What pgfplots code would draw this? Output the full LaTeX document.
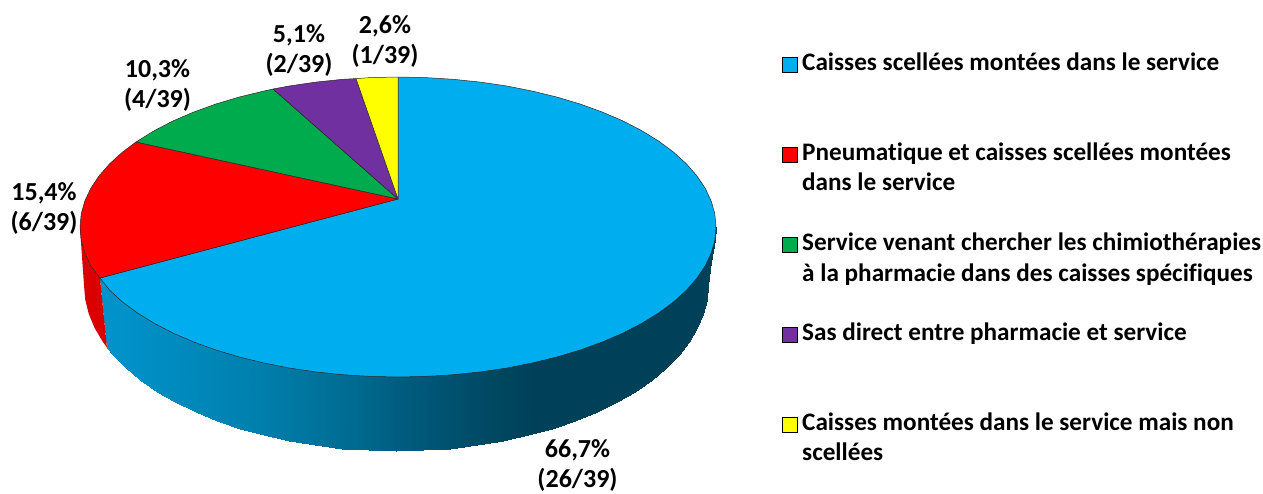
\documentclass[border=0pt]{standalone}
\usepackage{fontspec}
\setmainfont{Carlito}[Ligatures=CommonOff]
\usepackage{pgfplots}
\pgfplotsset{compat=1.18}
\definecolor{pieblue}{RGB}{0,174,239}
\definecolor{piered}{RGB}{255,0,0}
\definecolor{piereddark}{RGB}{219,0,0}
\definecolor{piegreen}{RGB}{0,171,78}
\definecolor{piepurple}{RGB}{112,48,160}
\definecolor{pieyellow}{RGB}{255,255,0}
\definecolor{edge}{RGB}{40,40,40}
\tikzset{
  sector/.style={draw=edge, line width=0.5pt, line join=round},
  pct/.style={font=\fontsize{26}{30}\selectfont\bfseries, align=center, inner sep=0pt, text=black},
  leg/.style={font=\fontsize{25.2}{30}\selectfont\bfseries, anchor=base west, inner sep=0pt, text=black},
  sq/.style={only marks, mark=square*, mark size=7.5pt, mark options={draw=black, line width=0.8pt, fill=#1}},
}
\begin{document}
\begin{tikzpicture}
\begin{axis}[
  scale only axis, width=1263pt, height=493pt,
  xmin=0, xmax=1263, ymin=0, ymax=493,
  y dir=reverse, hide axis, clip=false,
  colormap={wall}{rgb255(100)=(0,148,203) rgb255(127)=(0,145,200) rgb255(260)=(0,127,173)
    rgb255(360)=(0,105,142) rgb255(393)=(0,94,130) rgb255(433)=(0,85,117) rgb255(500)=(0,70,95)
    rgb255(533)=(0,65,90) rgb255(716)=(0,65,90)},
  point meta min=100, point meta max=716,
]
\path (axis cs:0,0) rectangle (axis cs:1263,493);
% side walls: blue one as a two-row mesh, coloured by x
\addplot[surf, shader=interp, mesh/rows=2, point meta=x] coordinates {
  (100,227) (107,227) (113.2,227) (125.8,227) (140.4,227) (157,227) (175.4,227) (195.5,227) (217,227)
  (240,227) (264.1,227) (289.3,227) (315.2,227) (341.8,227) (368.8,227) (396,227) (423.2,227)
  (450.2,227) (476.8,227) (502.7,227) (527.9,227) (552,227) (575,227) (596.5,227) (616.6,227)
  (635,227) (651.6,227) (666.2,227) (678.8,227) (689.2,227) (697.4,227) (703.3,227) (706.8,227)
  (708,227) (711,227) (714.8,227) (716,227)

  (100,278) (107,347.5) (113.2,355.2) (125.8,368) (140.4,380.2) (157,391.7) (175.4,402.4) (195.5,412.2) (217,421)
  (240,428.8) (264.1,435.4) (289.3,441) (315.2,445.3) (341.8,448.5) (368.8,450.4) (396,451) (423.2,450.4)
  (450.2,448.5) (476.8,445.3) (502.7,441) (527.9,435.4) (552,428.8) (575,421) (596.5,412.2) (616.6,402.4)
  (635,391.7) (651.6,380.2) (666.2,368) (678.8,355.2) (689.2,341.8) (697.4,328) (703.3,313.8) (706.8,299.5)
  (708,285) (711,262) (714.8,240) (716,227)
};
\addplot[fill=piereddark, draw=none] coordinates {
  (100,278) (107,347.5) (102.8,341.8) (94.6,328) (88.7,313.8) (85.2,299.5) (84,285)
  (81.5,250) (80,227) (398,199)
} -- cycle;
% top faces
\addplot[sector, fill=pieblue] coordinates {
  (398,199) (398,77) (425.7,77.6) (453.2,79.3) (480.3,82.1) (506.8,86) (532.4,91.1) (557,97.1)
  (580.4,104.1) (602.4,112.1) (622.9,120.9) (641.6,130.6) (658.5,141) (673.4,152) (686.2,163.6)
  (696.8,175.7) (705.2,188.2) (711.2,201) (714.8,213.9) (716,227) (714.8,240.1) (711.2,253)
  (705.2,265.8) (696.8,278.3) (686.2,290.4) (673.4,302) (658.5,313) (641.6,323.4) (622.9,333.1)
  (602.4,341.9) (580.4,349.9) (557,356.9) (532.4,362.9) (506.8,368) (480.3,371.9) (453.2,374.7)
  (425.7,376.4) (398,377) (370.3,376.4) (342.8,374.7) (315.7,371.9) (289.2,368) (263.6,362.9)
  (239,356.9) (215.6,349.9) (193.6,341.9) (173.1,333.1) (154.4,323.4) (137.5,313) (122.6,302)
  (109.8,290.4) (100,278)
} -- cycle;
\addplot[sector, fill=piered] coordinates {
  (398,199) (100,278) (90.8,265.8) (84.8,253) (81.2,240.1) (80,227) (81.2,213.9) (84.8,201)
  (90.8,188.2) (99.2,175.7) (109.8,163.6) (122.6,152) (136,142)
} -- cycle;
\addplot[sector, fill=piegreen] coordinates {
  (398,199) (136,142) (154.4,130.6) (173.1,120.9) (193.6,112.1) (215.6,104.1) (239,97.1)
  (263.6,91.1) (273,89)
} -- cycle;
\addplot[sector, fill=piepurple] coordinates {
  (398,199) (273,89) (289.2,86) (315.7,82.1) (342.8,79.3) (356,78.6)
} -- cycle;
\addplot[sector, fill=pieyellow] coordinates {
  (398,199) (356,78.6) (370.3,77.6) (398,77)
} -- cycle;
% percentage labels
\node[pct] at (axis cs:385,41.5) {2,6\%\\(1/39)};
\node[pct] at (axis cs:299,51) {5,1\%\\(2/39)};
\node[pct] at (axis cs:157.5,86) {10,3\%\\(4/39)};
\node[pct] at (axis cs:44,208) {15,4\%\\(6/39)};
\node[pct] at (axis cs:577.5,465) {66,7\%\\(26/39)};
% legend
\addplot[sq=pieblue] coordinates {(789.5,64.5)};
\addplot[sq=piered] coordinates {(789.5,154.5)};
\addplot[sq=piegreen] coordinates {(789.5,244.5)};
\addplot[sq=piepurple] coordinates {(789.5,334.5)};
\addplot[sq=pieyellow] coordinates {(789.5,424.5)};
\node[leg] at (axis cs:802,70.5) {Caisses scellées montées dans le service};
\node[leg] at (axis cs:802,160) {Pneumatique et caisses scellées montées};
\node[leg] at (axis cs:802,190.5) {dans le service};
\node[leg] at (axis cs:802,250) {Service venant chercher les chimiothérapies};
\node[leg] at (axis cs:802,281) {à la pharmacie dans des caisses spécifiques};
\node[leg] at (axis cs:802,340.5) {Sas direct entre pharmacie et service};
\node[leg] at (axis cs:802,430.5) {Caisses montées dans le service mais non};
\node[leg] at (axis cs:802,460.5) {scellées};
\end{axis}
\end{tikzpicture}
\end{document}
